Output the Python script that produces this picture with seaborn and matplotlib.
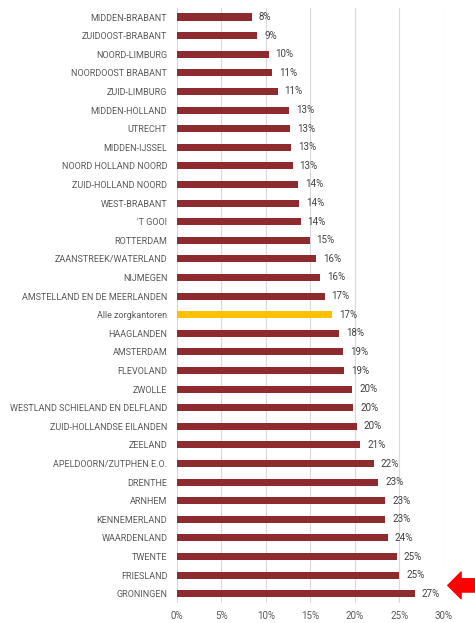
import matplotlib
matplotlib.use("Agg")
import matplotlib.pyplot as plt
import seaborn as sns
import pandas as pd

regions = [
    "MIDDEN-BRABANT", "ZUIDOOST-BRABANT", "NOORD-LIMBURG", "NOORDOOST BRABANT",
    "ZUID-LIMBURG", "MIDDEN-HOLLAND", "UTRECHT", "MIDDEN-IJSSEL",
    "NOORD HOLLAND NOORD", "ZUID-HOLLAND NOORD", "WEST-BRABANT", "'T GOOI",
    "ROTTERDAM", "ZAANSTREEK/WATERLAND", "NIJMEGEN", "AMSTELLAND EN DE MEERLANDEN",
    "Alle zorgkantoren", "HAAGLANDEN", "AMSTERDAM", "FLEVOLAND", "ZWOLLE",
    "WESTLAND SCHIELAND EN DELFLAND", "ZUID-HOLLANDSE EILANDEN", "ZEELAND",
    "APELDOORN/ZUTPHEN E.O.", "DRENTHE", "ARNHEM", "KENNEMERLAND",
    "WAARDENLAND", "TWENTE", "FRIESLAND", "GRONINGEN",
]
values = [
    8.4, 9.0, 10.3, 10.7, 11.3, 12.6, 12.7, 12.8,
    13.0, 13.6, 13.7, 13.9, 14.9, 15.6, 16.1, 16.6,
    17.4, 18.2, 18.7, 18.8, 19.7, 19.8, 20.2, 20.6,
    22.1, 22.6, 23.4, 23.4, 23.7, 24.7, 25.0, 26.7,
]
highlight = "Alle zorgkantoren"
marked = "GRONINGEN"
ticks = [0, 5, 10, 15, 20, 25, 30]

df = pd.DataFrame({"region": regions, "pct": values})
colors = ["#FFC000" if r == highlight else "#8E2B2F" for r in regions]

plt.rcParams["font.family"] = ["Roboto", "DejaVu Sans"]

fig = plt.figure(figsize=(4.75, 6.23), dpi=100)
ax = fig.add_axes([0.3726, 0.032, 0.562, 0.9556])

sns.barplot(data=df, x="pct", y="region", hue="region", palette=colors,
            legend=False, width=0.38, ax=ax, saturation=1)

for c in ax.containers:
    ax.bar_label(c, fmt=lambda v: f"{v:.0f}%", padding=5, fontsize=7,
                 color="#404040")

ax.set_xlim(0, 30)
ax.set_ylim(len(regions) - 0.5, -0.5)
ax.set_xticks(ticks)
ax.set_xticklabels([f"{t}%" for t in ticks])
ax.grid(axis="x", color="#D9D9D9", linewidth=0.8)
ax.set_axisbelow(True)
for s in ax.spines.values():
    s.set_visible(False)
ax.tick_params(axis="both", length=0, labelsize=6.5, colors="#595959")
ax.tick_params(axis="x", labelsize=7, pad=6)
ax.tick_params(axis="y", pad=7)
ax.set_xlabel("")
ax.set_ylabel("")

# red arrow pointing at Groningen
gi = regions.index(marked)
ax.annotate("", xy=(1.004, gi - 0.45), xytext=(1.13, gi - 0.45),
            xycoords=("axes fraction", "data"), textcoords=("axes fraction", "data"),
            arrowprops=dict(arrowstyle="simple,head_length=0.6,head_width=1.2,tail_width=0.6",
                            color="#FF0000", mutation_scale=16),
            annotation_clip=False)

fig.savefig("out.png", dpi=100)
